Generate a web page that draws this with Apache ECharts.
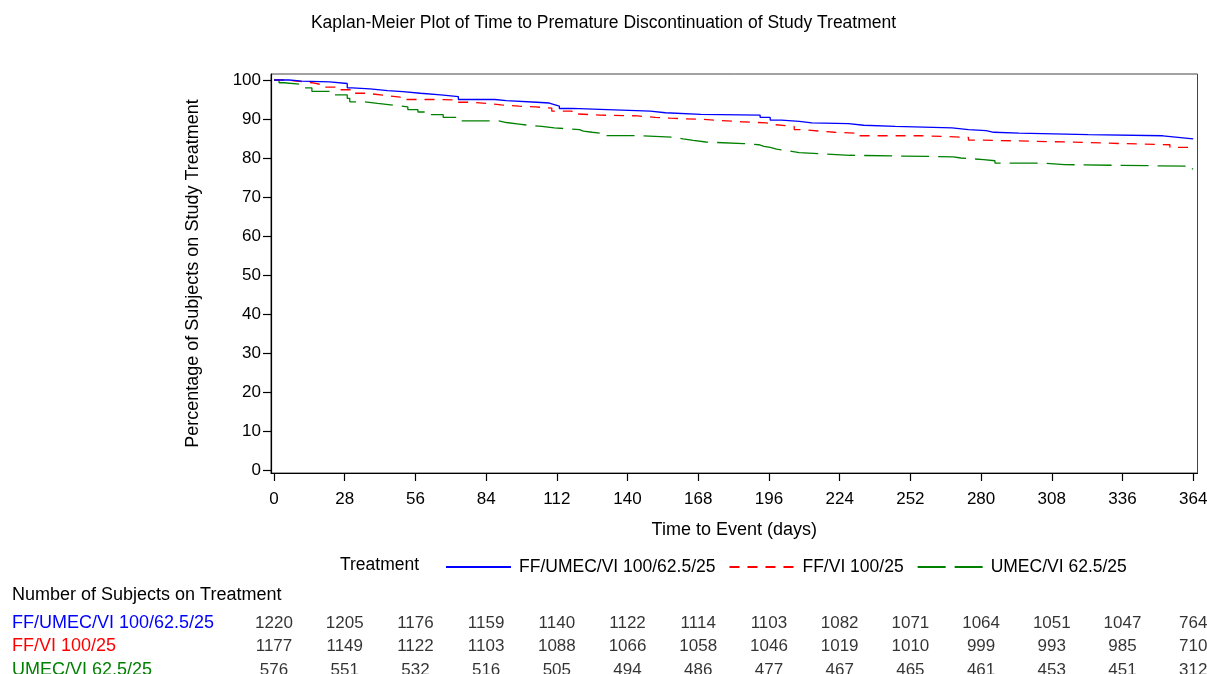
<!DOCTYPE html>
<html>
<head>
<meta charset="utf-8">
<script src="https://cdn.jsdelivr.net/npm/echarts@6/dist/echarts.min.js"></script>
<style>
html,body{margin:0;padding:0;background:#fff;}
#chart{width:1207px;height:674px;}
</style>
</head>
<body>
<div id="chart"></div>
<script>
// ---- Data ----
const xTicks = [0, 28, 56, 84, 112, 140, 168, 196, 224, 252, 280, 308, 336, 364];
const yTicks = [0, 10, 20, 30, 40, 50, 60, 70, 80, 90, 100];

const seriesNames = ['FF/UMEC/VI 100/62.5/25', 'FF/VI 100/25', 'UMEC/VI 62.5/25'];

// FF/UMEC/VI 100/62.5/25 : time (days) and % on treatment (step starts at time)
const tripleTime = [0, 6, 11, 22, 29, 31, 38, 45, 51, 58, 66, 73, 87.5, 92, 104, 109, 111, 113, 118, 132, 149, 155, 169, 192.5, 196.5, 201, 208, 213, 227.5, 233.5, 246, 268.5, 275, 282, 285, 295, 322.5, 352, 358, 364];
const tripleSurv = [100, 99.7, 99.5, 99.1, 98.0, 97.7, 97.3, 97.0, 96.6, 96.2, 95.75, 95.0, 94.7, 94.3, 94.1, 93.7, 93.3, 92.7, 92.4, 92.0, 91.6, 91.2, 91.0, 90.4, 89.7, 89.4, 89.0, 88.8, 88.4, 88.1, 87.7, 87.3, 87.0, 86.6, 86.4, 86.0, 85.7, 85.3, 84.9, 84.9];

// FF/VI 100/25
const fvTime = [0, 5, 11, 15, 19, 25, 31, 37, 43, 50, 64.5, 72, 78, 84, 90, 97, 103.5, 110, 118, 120, 129, 144, 151, 157, 170, 177, 185, 195, 197.5, 206, 208.3, 216, 222, 230, 256.5, 275, 279.6, 307.3, 320.8, 335.3, 354.8, 364];
const fvSurv = [100, 99.6, 99.3, 98.8, 98.2, 97.5, 96.6, 96.1, 95.6, 95.0, 94.9, 94.3, 94.0, 93.6, 93.3, 93.1, 92.8, 92.0, 91.3, 91.0, 90.8, 90.4, 90.2, 89.9, 89.6, 89.3, 89.0, 88.6, 88.1, 87.3, 86.9, 86.6, 86.4, 85.7, 85.3, 84.6, 84.2, 84.0, 83.7, 83.4, 82.7, 82.7];

// UMEC/VI 62.5/25
const uvTime = [0, 2, 4, 12, 15, 23, 29, 30, 36, 41, 48, 53, 57, 62, 67, 74, 89, 92, 97, 102, 106, 111, 121, 122.5, 126, 130, 143.5, 159, 162, 166, 171, 186, 192, 194, 196.5, 199, 203, 205, 208, 216.5, 228, 269, 272, 281, 285.5, 304, 313, 361, 364];
const uvSurv = [100, 99.3, 98.8, 98.0, 97.1, 96.2, 95.3, 94.4, 94.0, 93.5, 93.1, 92.4, 91.8, 91.1, 90.4, 89.5, 89.1, 88.7, 88.3, 88.1, 87.7, 87.3, 86.9, 86.6, 86.3, 85.75, 85.3, 84.9, 84.5, 84.1, 83.7, 83.4, 83.0, 82.7, 82.3, 81.9, 81.7, 81.4, 81.1, 80.7, 80.3, 80.0, 79.6, 79.3, 78.7, 78.3, 77.9, 77.2, 77.2];

// Number of subjects on treatment at each tick
const riskTriple = [1220, 1205, 1176, 1159, 1140, 1122, 1114, 1103, 1082, 1071, 1064, 1051, 1047, 764];
const riskFV = [1177, 1149, 1122, 1103, 1088, 1066, 1058, 1046, 1019, 1010, 999, 993, 985, 710];
const riskUV = [576, 551, 532, 516, 505, 494, 486, 477, 467, 465, 461, 453, 451, 312];

// ---- Styling / layout ----
const colors = ['#0000ff', '#ff0000', '#008000'];
const FONT = 'Liberation Sans, Arial, sans-serif';

function pairs(t, s) { return t.map((v, i) => [v, s[i]]); }
const riskRows = [riskTriple, riskFV, riskUV];
const rowIdx = [0, 1, 2];
const riskData = [];
riskRows.forEach((row, r) => row.forEach((n, i) => riskData.push([xTicks[i], r, n])));

const chart = echarts.init(document.getElementById('chart'), null, { renderer: 'canvas' });
const xMin = -1.19, xMax = 365.7;

const option = {
  animation: false,
  backgroundColor: '#ffffff',
  title: {
    text: 'Kaplan-Meier Plot of Time to Premature Discontinuation of Study Treatment',
    left: 'center', top: 14, padding: 0,
    textStyle: { fontFamily: FONT, fontSize: 17.5, fontWeight: 'normal', color: '#000' }
  },
  grid: [
    { left: 271, right: 9.5, top: 74, bottom: 201, show: true, borderColor: '#444', borderWidth: 1, backgroundColor: 'transparent', outerBoundsMode: 'none', containLabel: false },
    { left: 271, right: 9.5, top: 610, bottom: 0, show: false, outerBoundsMode: 'none', containLabel: false }
  ],
  legend: {
    left: 440, top: 553,
    itemWidth: 65, itemHeight: 18, itemGap: 13,
    data: seriesNames,
    itemStyle: { opacity: 0, borderWidth: 0 },
    textStyle: { fontFamily: FONT, fontSize: 17.5, color: '#000', padding: [0, 0, 0, 3] },
    selectedMode: false
  },
  xAxis: [
    {
      type: 'value', gridIndex: 0, min: xMin, max: xMax,
      name: 'Time to Event (days)', nameLocation: 'middle', nameGap: 48,
      nameTextStyle: { fontFamily: FONT, fontSize: 18, color: '#000' },
      axisLine: { show: true, onZero: false, lineStyle: { color: '#000', width: 1.2 } },
      axisTick: { show: true, length: 8, customValues: xTicks, lineStyle: { color: '#000', width: 1.2 } },
      axisLabel: { customValues: xTicks, margin: 18, fontFamily: FONT, fontSize: 17, color: '#000' },
      splitLine: { show: false }
    },
    {
      type: 'value', gridIndex: 1, min: xMin, max: xMax, show: false
    }
  ],
  yAxis: [
    {
      type: 'value', gridIndex: 0, min: -0.77, max: 101.54,
      name: 'Percentage of Subjects on Study Treatment', nameLocation: 'middle', nameGap: 69,
      nameTextStyle: { fontFamily: FONT, fontSize: 18, color: '#000' },
      axisLine: { show: true, onZero: false, lineStyle: { color: '#000', width: 1.2 } },
      axisTick: { show: true, length: 8, customValues: yTicks, lineStyle: { color: '#000', width: 1.2 } },
      axisLabel: { customValues: yTicks, margin: 10, fontFamily: FONT, fontSize: 17, color: '#000' },
      splitLine: { show: false }
    },
    {
      type: 'value', gridIndex: 1, inverse: true, min: -0.55, max: 2.173,
      axisLine: { show: false }, axisTick: { show: false }, splitLine: { show: false },
      axisLabel: {
        customValues: rowIdx, showMinLabel: true, showMaxLabel: true,
        align: 'left', margin: 259, fontFamily: FONT, fontSize: 18,
        formatter: v => '{r' + v + '|' + seriesNames[v] + '}',
        rich: {
          r0: { color: colors[0], fontFamily: FONT, fontSize: 18 },
          r1: { color: colors[1], fontFamily: FONT, fontSize: 18 },
          r2: { color: colors[2], fontFamily: FONT, fontSize: 18 }
        }
      }
    }
  ],
  graphic: [
    { type: 'text', left: 12, top: 586, style: { text: 'Number of Subjects on Treatment', font: '18px ' + FONT, fill: '#000' } },
    { type: 'text', left: 340, top: 556, style: { text: 'Treatment', font: '17.5px ' + FONT, fill: '#000' } }
  ],
  series: [
    {
      name: seriesNames[0], type: 'line', step: 'end', symbol: 'none', showSymbol: false, xAxisIndex: 0, yAxisIndex: 0,
      data: pairs(tripleTime, tripleSurv),
      lineStyle: { color: colors[0], width: 1.3, type: 'solid' }, itemStyle: { color: colors[0] }, z: 5
    },
    {
      name: seriesNames[1], type: 'line', step: 'end', symbol: 'none', showSymbol: false, xAxisIndex: 0, yAxisIndex: 0,
      data: pairs(fvTime, fvSurv),
      lineStyle: { color: colors[1], width: 1.3, type: [10, 8] }, itemStyle: { color: colors[1] }, z: 4
    },
    {
      name: seriesNames[2], type: 'line', step: 'end', symbol: 'none', showSymbol: false, xAxisIndex: 0, yAxisIndex: 0,
      data: pairs(uvTime, uvSurv),
      lineStyle: { color: colors[2], width: 1.3, type: [28, 9] }, itemStyle: { color: colors[2] }, z: 3
    },
    {
      name: 'risk', type: 'scatter', xAxisIndex: 1, yAxisIndex: 1,
      data: riskData, symbolSize: 1, itemStyle: { color: 'rgba(0,0,0,0)' },
      label: { show: true, position: 'inside', formatter: p => String(p.value[2]), fontFamily: FONT, fontSize: 17, color: '#000' },
      silent: true
    }
  ]
};
chart.setOption(option);
</script>
</body>
</html>
